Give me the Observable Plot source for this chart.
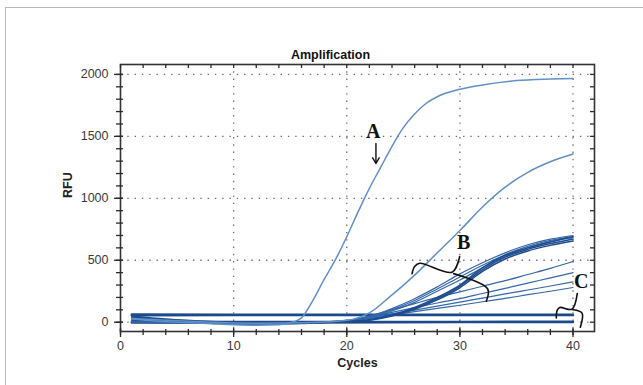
<!DOCTYPE html>
<html><head><meta charset="utf-8">
<script src="https://cdn.jsdelivr.net/npm/d3@7"></script>
<script src="https://cdn.jsdelivr.net/npm/@observablehq/plot@0.6"></script>
<style>
html,body{margin:0;padding:0;background:#fff;}
#wrap{position:relative;width:643px;height:385px;overflow:hidden;}
#border{position:absolute;left:5px;top:7px;width:700px;height:500px;border-top:1.5px solid #b8b8b8;border-left:1.5px solid #b8b8b8;}
#chart{position:absolute;left:0;top:0;}
</style></head>
<body><div id="wrap"><div id="border"></div><div id="chart"></div></div>
<script>
// ---- data ----
const titleText = "Amplification";
const xLabel = "Cycles";
const yLabel = "RFU";
const majorX = [0, 10, 20, 30, 40];
const minorX = [0, 2, 4, 6, 8, 10, 12, 14, 16, 18, 20, 22, 24, 26, 28, 30, 32, 34, 36, 38, 40];
const majorY = [0, 500, 1000, 1500, 2000];
const minorY = [0, 100, 200, 300, 400, 500, 600, 700, 800, 900, 1000, 1100, 1200, 1300, 1400, 1500, 1600, 1700, 1800, 1900, 2000];

const cyclesA = [1, 3, 5, 8, 10, 12, 14, 15, 16, 17, 18, 19, 20, 21, 22, 23, 24, 25, 26, 27, 28, 30, 32, 35, 38, 40];
const rfuA    = [25, 10, 0, -12, -20, -24, -20, -5, 35, 175, 345, 505, 690, 890, 1080, 1250, 1420, 1570, 1680, 1765, 1820, 1880, 1915, 1950, 1963, 1968];

const cyclesB = [1, 4, 8, 12, 16, 20, 22, 24, 26, 28, 30, 32, 34, 36, 38, 40];
const rfuBtop = [30, 15, 0, -8, -5, 15, 75, 220, 380, 560, 740, 930, 1090, 1210, 1295, 1357];
const rfuE1   = [45, 20, 2, -5, -3, 15, 45, 110, 190, 285, 390, 480, 560, 625, 670, 700];
const rfuE2   = [35, 15, 0, -6, -4, 12, 40, 100, 175, 268, 365, 460, 545, 612, 660, 690];
const rfuE3   = [25, 10, -2, -8, -5, 10, 35, 90, 160, 250, 340, 440, 530, 600, 650, 682];
const rfuT1   = [50, 25, 5, -4, -2, 5, 20, 60, 120, 200, 300, 440, 540, 600, 648, 690];
const rfuT2   = [40, 20, 3, -5, -3, 4, 18, 55, 112, 190, 290, 425, 525, 588, 634, 672];
const rfuT3   = [20, 8, -2, -8, -5, 3, 15, 50, 105, 180, 278, 410, 510, 575, 620, 655];
const rfuL1   = [15, 5, -5, -12, -8, 12, 50, 100, 150, 200, 245, 290, 335, 385, 435, 490];
const rfuL2   = [10, 3, -6, -14, -10, 10, 40, 80, 117, 155, 190, 232, 273, 315, 358, 400];
const rfuL3   = [5, 0, -8, -15, -10, 8, 35, 68, 98, 130, 162, 195, 228, 260, 292, 325];
const rfuL4   = [0, -3, -10, -18, -12, 6, 30, 58, 85, 112, 137, 165, 192, 222, 250, 280];

const cyclesC = [1, 10, 20, 30, 40];
const rfuC1 = [62, 61, 60, 60, 60];
const rfuC2 = [56, 57, 57, 57, 57];
const rfuC3 = [5, 3, 2, 3, 4];
const rfuC4 = [-2, -4, 0, 1, 1];

// annotations
const annoLabels = ["A", "B", "C"];
const annoX = [22.35, 30.33, 40.73];
const annoY = [1540, 646, 329];
const arrowA = {x1: 22.58, y1: 1443, x2: 22.58, y2: 1281};
const braceBX = [25.77, 26.0, 26.45, 29.31, 29.98, 29.45, 32.45, 32.34];
const braceBY = [391, 450, 476, 404, 530, 392, 270, 170];
const braceBPart = [0, 0, 0, 0, 0, 1, 1, 1];
const braceCX = [38.52, 38.6, 38.83, 39.91, 40.38, 40.0, 40.80, 40.65];
const braceCY = [34, 95, 119, 105, 232, 100, 73, -40];
const braceCPart = [0, 0, 0, 0, 0, 1, 1, 1];

// ---- build tables ----
const series = [
  {name: "C1", cycles: cyclesC, values: rfuC1, group: "C"},
  {name: "C2", cycles: cyclesC, values: rfuC2, group: "C"},
  {name: "C3", cycles: cyclesC, values: rfuC3, group: "C"},
  {name: "C4", cycles: cyclesC, values: rfuC4, group: "C"},
  {name: "L1", cycles: cyclesB, values: rfuL1, group: "mid"},
  {name: "L2", cycles: cyclesB, values: rfuL2, group: "mid"},
  {name: "L3", cycles: cyclesB, values: rfuL3, group: "mid"},
  {name: "L4", cycles: cyclesB, values: rfuL4, group: "mid"},
  {name: "E1", cycles: cyclesB, values: rfuE1, group: "mid"},
  {name: "E2", cycles: cyclesB, values: rfuE2, group: "mid"},
  {name: "E3", cycles: cyclesB, values: rfuE3, group: "mid"},
  {name: "T1", cycles: cyclesB, values: rfuT1, group: "dark"},
  {name: "T2", cycles: cyclesB, values: rfuT2, group: "dark"},
  {name: "T3", cycles: cyclesB, values: rfuT3, group: "dark"},
  {name: "Btop", cycles: cyclesB, values: rfuBtop, group: "light"},
  {name: "A", cycles: cyclesA, values: rfuA, group: "light"}
];
const rows = series.flatMap(s => s.cycles.map((c, i) => ({series: s.name, cycle: c, rfu: s.values[i], group: s.group})));
const byGroup = g => rows.filter(d => d.group === g);
const braceB = braceBX.map((x, i) => ({x, y: braceBY[i], part: braceBPart[i]}));
const braceC = braceCX.map((x, i) => ({x, y: braceCY[i], part: braceCPart[i]}));
const annos = annoLabels.map((t, i) => ({t, x: annoX[i], y: annoY[i]}));

const W = 643, H = 385, mL = 120, mR = 49, mT = 64, mB = 54;
const iw = W - mL - mR, ih = H - mT - mB;
const tickColor = "#2a2a2a";
const gridStyle = {stroke: "#6e6e6e", strokeOpacity: 1, strokeWidth: 1.3, strokeDasharray: "1.4,5.9"};

const chart = Plot.plot({
  width: W, height: H,
  marginLeft: mL, marginRight: mR, marginTop: mT, marginBottom: mB,
  style: {fontFamily: "'Liberation Sans', Arial, sans-serif", fontSize: "12px", color: "#333", background: "transparent"},
  x: {domain: [0, 41.9]},
  y: {domain: [-75, 2080]},
  marks: [
    Plot.gridX(majorX.slice(1), gridStyle),
    Plot.gridY(majorY, gridStyle),
    Plot.line(byGroup("C"), {x: "cycle", y: "rfu", z: "series", stroke: "#1b4a8c", strokeWidth: 2.4, curve: "monotone-x"}),
    Plot.line(byGroup("mid"), {x: "cycle", y: "rfu", z: "series", stroke: "#3466a8", strokeWidth: 1.2, curve: "monotone-x"}),
    Plot.line(byGroup("dark"), {x: "cycle", y: "rfu", z: "series", stroke: "#1d4c8e", strokeWidth: 1.5, curve: "monotone-x"}),
    Plot.line(byGroup("light"), {x: "cycle", y: "rfu", z: "series", stroke: "#6090c6", strokeWidth: 1.5, curve: "monotone-x"}),
    Plot.frame({stroke: "#333", strokeWidth: 1.6}),
    // bottom ticks (crossing), top ticks (inside)
    Plot.ruleX(minorX, {x: d => d, insetTop: ih - 2, insetBottom: -4, stroke: tickColor, strokeWidth: 1.3}),
    Plot.ruleX(majorX, {x: d => d, insetTop: ih - 3, insetBottom: -6, stroke: tickColor, strokeWidth: 1.3}),
    Plot.ruleX(minorX, {x: d => d, insetTop: 0, insetBottom: ih - 4, stroke: tickColor, strokeWidth: 1.3}),
    // left ticks (crossing), right ticks (inside)
    Plot.ruleY(minorY, {y: d => d, insetLeft: -4, insetRight: iw - 3, stroke: tickColor, strokeWidth: 1.3}),
    Plot.ruleY(majorY, {y: d => d, insetLeft: -6, insetRight: iw - 3, stroke: tickColor, strokeWidth: 1.3}),
    Plot.ruleY(minorY, {y: d => d, insetLeft: iw - 4, insetRight: 0, stroke: tickColor, strokeWidth: 1.3}),
    Plot.axisX(majorX, {tickSize: 0, tickPadding: 10, fontSize: 12.5, fill: "#3a3a3a", tickFormat: d => String(d), label: null}),
    Plot.axisY(majorY, {tickSize: 0, tickPadding: 12, fontSize: 12.5, fill: "#3a3a3a", tickFormat: d => String(d), label: null}),
    // titles
    Plot.text([titleText], {text: d => d, frameAnchor: "top", dx: -27, dy: -14, fontWeight: "bold", fontSize: 12.5, fill: "#111"}),
    Plot.text([xLabel], {text: d => d, frameAnchor: "bottom", dy: 35, fontWeight: "bold", fontSize: 12.5, fill: "#222"}),
    Plot.text([yLabel], {text: d => d, frameAnchor: "left", dx: -53, rotate: -90, fontWeight: "bold", fontSize: 12.5, fill: "#222"}),
    // annotations
    Plot.line(braceB, {x: "x", y: "y", z: "part", stroke: "#111", strokeWidth: 1.6, curve: "catmull-rom"}),
    Plot.line(braceC, {x: "x", y: "y", z: "part", stroke: "#111", strokeWidth: 1.6, curve: "catmull-rom"}),
    Plot.arrow([arrowA], {x1: "x1", y1: "y1", x2: "x2", y2: "y2", stroke: "#111", strokeWidth: 1.4, headLength: 7}),
    Plot.text(annos, {x: "x", y: "y", text: "t", fontFamily: "'Liberation Serif', 'Times New Roman', serif", fontWeight: "bold", fontSize: 20, fill: "#111"})
  ]
});
document.getElementById("chart").appendChild(chart);
</script></body></html>
